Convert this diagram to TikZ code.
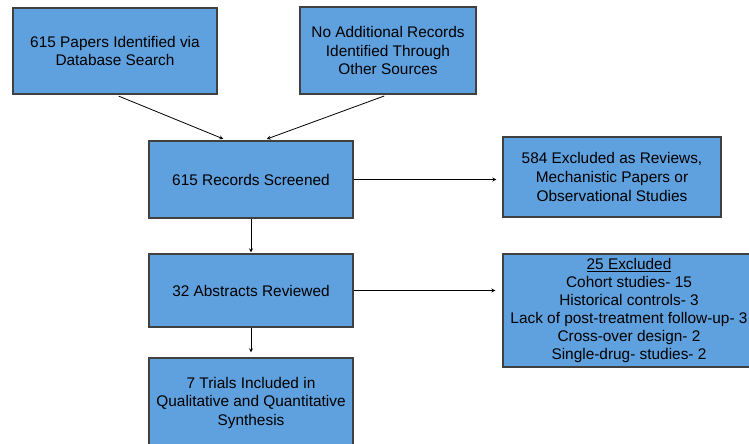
\documentclass[tikz,border=0pt]{standalone}
\usepackage{fontspec}
\setmainfont{Liberation Sans}
\usetikzlibrary{arrows}
\definecolor{boxblue}{RGB}{95,160,222}
\definecolor{boxline}{RGB}{64,64,64}

\begin{document}
\begin{tikzpicture}[x=1pt,y=-1pt,
    box/.style={draw=boxline,line width=1.2pt,fill=boxblue,align=center,inner sep=0pt,
      font=\fontsize{15.4}{18.7}\selectfont},
    arr/.style={-stealth,line width=0.8pt}]
        \clip (0,0) rectangle (749,444);
        \node [box,minimum width=204pt,minimum height=86pt] (1) at (115,51) {615 Papers Identified via\\Database Search};
        \node [box,minimum width=176pt,minimum height=87pt] (2) at (388,50.5) {No Additional Records\\Identified Through\\Other Sources};
        \node [box,minimum width=204pt,minimum height=77pt] (3) at (251,179.5) {615 Records Screened};
        \node [box,minimum width=218pt,minimum height=80pt] (4) at (612,177) {584 Excluded as Reviews,\\Mechanistic Papers or\\Observational Studies};
        \node [box,minimum width=204pt,minimum height=73pt] (5) at (251,290.5) {32 Abstracts Reviewed};
        \node [box,minimum width=252pt,minimum height=113pt,font=\fontsize{15.4}{18}\selectfont] (6) at (629,310.5) {\underline{25 Excluded}\\Cohort studies- 15\\Historical controls- 3\\Lack of post-treatment follow-up- 3\\Cross-over design- 2\\Single-drug- studies- 2};
        \node [box,minimum width=204pt,minimum height=90pt] (7) at (251,403) {7 Trials Included in\\Qualitative and Quantitative\\Synthesis};
        \draw [arr,shorten <=4pt,shorten >=4pt] (1.south) to ([xshift=-24pt]3.north);
        \draw [arr,shorten <=4pt,shorten >=4pt] (2.south) to ([xshift=12pt]3.north);
        \draw [arr,shorten >=6pt] (3.east) to (3.east -| 4.west);
        \draw [arr,shorten >=1pt] (3.south) to (5.north);
        \draw [arr,shorten >=7pt] (5.east) to (5.east -| 6.west);
        \draw [arr,shorten >=5pt] (5.south) to (7.north);
\end{tikzpicture}
\end{document}
